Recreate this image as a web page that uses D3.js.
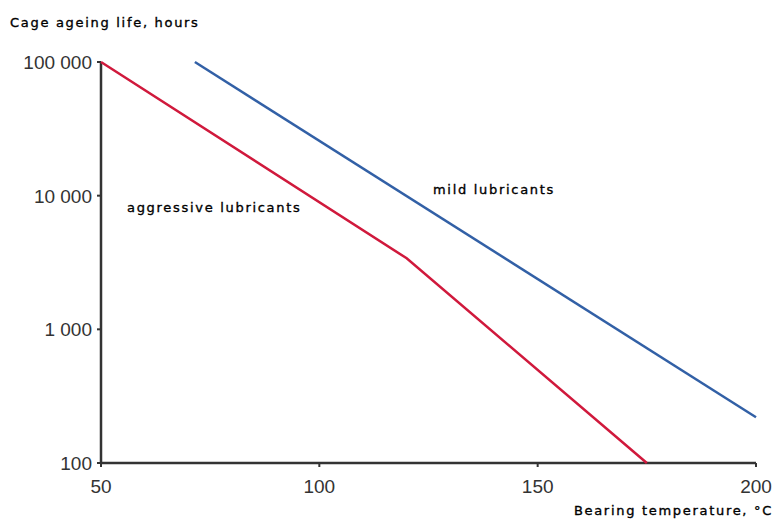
<!DOCTYPE html>
<html>
<head>
<meta charset="utf-8">
<script src="https://cdn.jsdelivr.net/npm/d3@7"></script>
<style>
  html, body { margin: 0; padding: 0; background: #fff; }
  svg { display: block; }
  .tick-label { font-family: "Liberation Sans", Arial, sans-serif; font-size: 19px; fill: #333; }
  .title { font-family: "DejaVu Sans", Verdana, sans-serif; font-size: 13px; fill: #000; stroke: #000; stroke-width: 0.35px; letter-spacing: 1.7px; }
</style>
</head>
<body>
<svg id="chart"></svg>
<script>
// Temperature ticks (°C) and life ticks (hours)
var xTicks = [50, 100, 150, 200];
var yTicks = [100, 1000, 10000, 100000];
var yTickLabels = ["100", "1 000", "10 000", "100 000"];

// Aggressive lubricants: temperature, life
var aggressiveTemp = [50, 120, 175];
var aggressiveLife = [100000, 3400, 100];

// Mild lubricants
var mildTemp = [71.5, 200];
var mildLife = [100000, 220];

var width = 777, height = 519;
var margin = { top: 62, right: 21, bottom: 56, left: 101 };

var svg = d3.select("#chart")
  .attr("width", width)
  .attr("height", height);

var x = d3.scaleLinear()
  .domain([50, 200])
  .range([margin.left, width - margin.right]);

var y = d3.scaleLog()
  .domain([100, 100000])
  .range([height - margin.bottom, margin.top]);

// Axis lines
svg.append("line")
  .attr("x1", x(50)).attr("x2", x(50))
  .attr("y1", y(100000)).attr("y2", y(100))
  .attr("stroke", "#333").attr("stroke-width", 2.5);

svg.append("line")
  .attr("x1", x(50)).attr("x2", x(200))
  .attr("y1", y(100)).attr("y2", y(100))
  .attr("stroke", "#333").attr("stroke-width", 2.5);

// Y ticks
svg.selectAll(".ytick")
  .data(yTicks)
  .enter().append("line")
  .attr("x1", x(50) - 4).attr("x2", x(50))
  .attr("y1", function(d) { return y(d); })
  .attr("y2", function(d) { return y(d); })
  .attr("stroke", "#333").attr("stroke-width", 2);

svg.selectAll(".ylabel")
  .data(yTicks)
  .enter().append("text")
  .attr("class", "tick-label")
  .attr("x", x(50) - 9)
  .attr("y", function(d) { return y(d) + 7; })
  .attr("text-anchor", "end")
  .text(function(d, i) { return yTickLabels[i]; });

// X ticks
svg.selectAll(".xtick")
  .data(xTicks)
  .enter().append("line")
  .attr("x1", function(d) { return x(d); })
  .attr("x2", function(d) { return x(d); })
  .attr("y1", y(100)).attr("y2", y(100) + 4)
  .attr("stroke", "#333").attr("stroke-width", 2);

svg.selectAll(".xlabel")
  .data(xTicks)
  .enter().append("text")
  .attr("class", "tick-label")
  .attr("x", function(d) { return x(d); })
  .attr("y", y(100) + 30)
  .attr("text-anchor", "middle")
  .text(function(d) { return d; });

// Lines
var line = d3.line()
  .x(function(d) { return x(d[0]); })
  .y(function(d) { return y(d[1]); });

svg.append("path")
  .datum(d3.zip(mildTemp, mildLife))
  .attr("d", line)
  .attr("fill", "none")
  .attr("stroke", "#3260a6")
  .attr("stroke-width", 2.5);

svg.append("path")
  .datum(d3.zip(aggressiveTemp, aggressiveLife))
  .attr("d", line)
  .attr("fill", "none")
  .attr("stroke", "#d0193c")
  .attr("stroke-width", 2.5);

// Labels
svg.append("text")
  .attr("class", "title")
  .attr("x", 127).attr("y", 212)
  .text("aggressive lubricants");

svg.append("text")
  .attr("class", "title")
  .attr("x", 433).attr("y", 194)
  .text("mild lubricants");

svg.append("text")
  .attr("class", "title")
  .attr("x", 10).attr("y", 27)
  .text("Cage ageing life, hours");

svg.append("text")
  .attr("class", "title")
  .attr("x", 773).attr("y", 515)
  .attr("text-anchor", "end")
  .text("Bearing temperature, °C");
</script>
</body>
</html>
